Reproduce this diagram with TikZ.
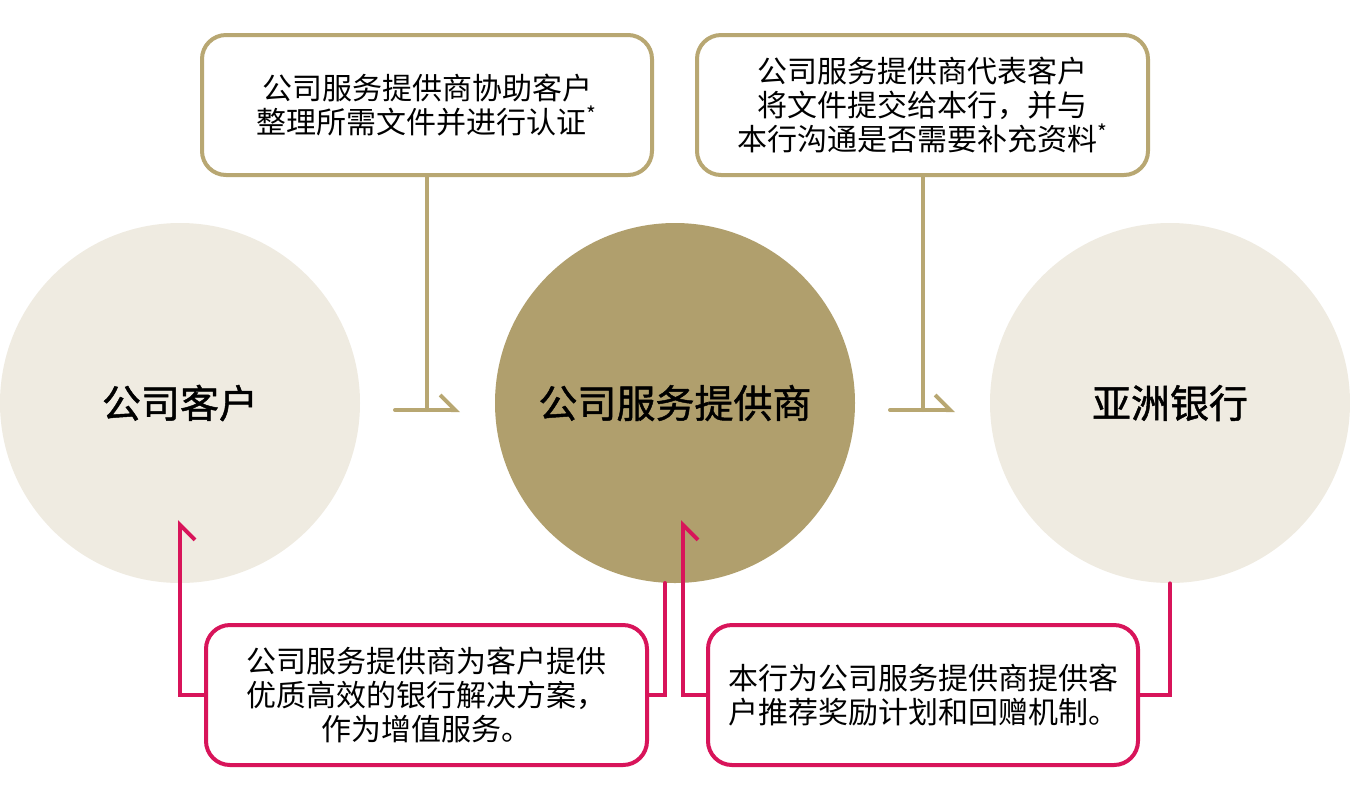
\documentclass[tikz,border=0pt]{standalone}
\usepackage{fontspec}
\setmainfont{Noto Sans CJK SC}
\newfontfamily\labelfont[FakeBold=1.2]{Noto Sans CJK SC}
\usetikzlibrary{arrows.meta,positioning}
\definecolor{sand}{HTML}{EFEBE1}
\definecolor{khaki}{HTML}{B09F6D}
\definecolor{goldline}{HTML}{B8A772}
\definecolor{crimson}{HTML}{D8145A}

\begin{document}
\begin{tikzpicture}[x=0.5pt,y=-0.5pt,
 party/.style={circle,minimum size=180pt,inner sep=0pt,font=\labelfont\fontsize{19.5}{23}\selectfont},
 note/.style={draw=#1,line width=2pt,rounded corners=12pt,fill=white,align=center,minimum height=70pt,inner sep=0pt,font=\fontsize{15}{17}\selectfont},
 link/.style={draw=#1,line width=2pt,line cap=round},
 barb/.style={-{Straight Barb[harpoon,length=7.5pt,width=15pt]}},
 barbr/.style={-{Straight Barb[harpoon,swap,length=7.5pt,width=15pt]}},
]
\useasboundingbox (0,0) rectangle (1350,800);
% the three parties
\node[party,fill=sand] (client) at (180,403) {公司客户};
\node[party,fill=khaki] (csp) at (675,403) {公司服务提供商};
\node[party,fill=sand] (bank) at (1170,403) {亚洲银行};
% upper notes
\node[note=goldline,minimum width=225pt] (prep) at (427,105) {公司服务提供商协助客户\\整理所需文件并进行认证\textsuperscript{*}};
\node[note=goldline,minimum width=225.5pt] (submit) at (922.5,105) {公司服务提供商代表客户\\将文件提交给本行，并与\\本行沟通是否需要补充资料\textsuperscript{*}};
% lower notes
\node[note=crimson,minimum width=220.5pt] (value) at (426.5,695) {公司服务提供商为客户提供\\优质高效的银行解决方案，\\作为增值服务。};
\node[note=crimson,minimum width=215pt] (reward) at (923,695) {本行为公司服务提供商提供客\\户推荐奖励计划和回赠机制。};
% connector ends
\coordinate (in1) at (395,410);
\coordinate (out1) at (460,410);
\coordinate (in2) at (890,410);
\coordinate (out2) at (955,410);
\coordinate (up1) at (180,520);
\coordinate (dn1) at (665,583);
\coordinate (up2) at (683,520);
% gold links
\draw[link=goldline] (prep.south) -- (prep.south |- in1);
\draw[link=goldline,barb] (in1) -- (out1);
\draw[link=goldline] (submit.south) -- (submit.south |- in2);
\draw[link=goldline,barb] (in2) -- (out2);
% crimson links
\draw[link=crimson,barbr] (value.west) -| (up1);
\draw[link=crimson] (value.east) -| (dn1);
\draw[link=crimson,barbr] (reward.west) -| (up2);
\draw[link=crimson] (reward.east) -| (bank.south);
\end{tikzpicture}
\end{document}
